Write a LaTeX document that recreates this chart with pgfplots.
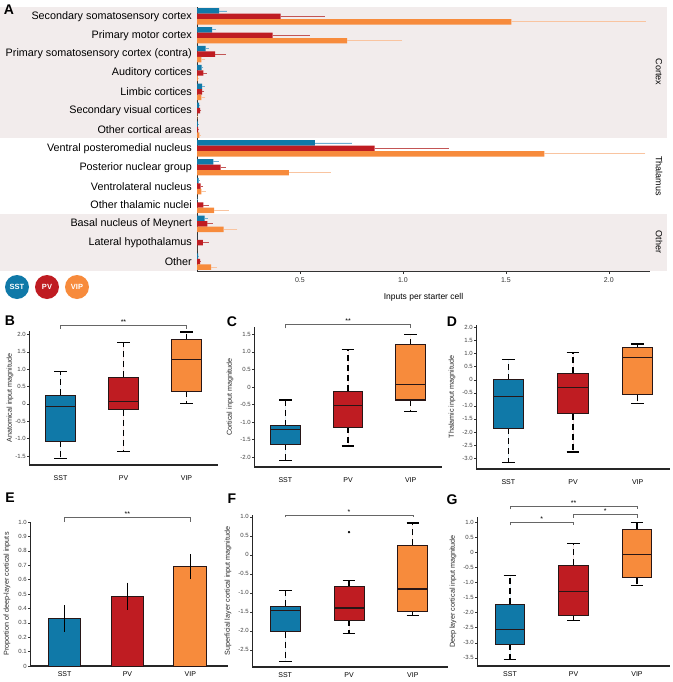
\documentclass[border=0pt]{standalone}
\usepackage{fontspec}
\setmainfont{Liberation Sans}
\usepackage{pgfplots}
\pgfplotsset{compat=1.18}
\usepgfplotslibrary{statistics}
\usepackage{pgfplotstable}

\definecolor{sstc}{RGB}{16,121,168}
\definecolor{pvc}{RGB}{191,28,34}
\definecolor{vipc}{RGB}{247,139,60}
\definecolor{sste}{RGB}{110,175,210}
\definecolor{pve}{RGB}{195,85,85}
\definecolor{vipe}{RGB}{249,196,160}
\definecolor{bandc}{RGB}{242,236,236}
\definecolor{edgec}{RGB}{40,22,22}

\pgfplotstableread{
r v e
13 0.108 0.038
12 0.073 0.020
11 0.042 0.014
10 0.023 0.008
9 0.025 0.012
8 0.010 0.006
7 0.004 0.003
6 0.573 0.181
5 0.079 0.029
4 0.008 0.004
3 0.002 0.002
2 0.0375 0.015
1 0.000 0.000
0 0.006 0.002
}\sstA
\pgfplotstableread{
r v e
13 0.406 0.214
12 0.367 0.180
11 0.0875 0.052
10 0.031 0.017
9 0.025 0.010
8 0.015 0.006
7 0.006 0.003
6 0.8625 0.360
5 0.115 0.027
4 0.017 0.013
3 0.031 0.027
2 0.050 0.027
1 0.029 0.029
0 0.015 0.004
}\pvA
\pgfplotstableread{
r v e
13 1.527 0.653
12 0.729 0.267
11 0.021 0.020
10 0.004 0.006
9 0.021 0.020
8 0.002 0.002
7 0.012 0.006
6 1.6875 0.490
5 0.446 0.204
4 0.021 0.021
3 0.083 0.071
2 0.129 0.067
1 0.000 0.000
0 0.069 0.029
}\vipA

\pgfplotsset{
  boxax/.style={
    scale only axis, anchor=south west,
    axis x line*=bottom, axis y line*=left,
    xmin=0.5, xmax=3.5, xtick={1,2,3}, xticklabels={SST,PV,VIP},
    x tick style={draw=none},
    y tick style={black!80, line width=0.5pt},
    tick align=outside, major tick length=2pt,
    x axis line style={line width=1.1pt, black!85},
    y axis line style={line width=0.7pt, black!85},
    xticklabel style={font=\fontsize{7}{8}\selectfont},
    yticklabel style={font=\fontsize{6}{6.5}\selectfont, text=black!75, inner sep=1pt},
    ylabel style={font=\fontsize{7.2}{8}\selectfont, anchor=center, text=black!85},
    clip=false, unbounded coords=jump,
    /pgf/number format/assume math mode=true,
    boxplot/draw direction=y,
    boxplot/box extend=0.47,
    boxplot/whisker extend=0,
    boxplot/every whisker/.style={dash pattern=on 6pt off 4pt, draw=black, line width=1.1pt},
    boxplot/every median/.style={line width=1.3pt, draw=edgec},
  },
  sbox/.style={fill=sstc, draw=edgec, line width=1.05pt, solid},
  pbox/.style={fill=pvc, draw=edgec, line width=1.05pt, solid},
  vbox/.style={fill=vipc, draw=edgec, line width=1.05pt, solid},
  caps/.style={black, line width=1.1pt, solid, no marks},
}
\newcommand{\sig}[6]{%
  \draw[black!60, line width=0.6pt] (axis cs:#1,#5) -- (axis cs:#1,#4) -- (axis cs:#2,#4) -- (axis cs:#2,#5);
  \node[font=\fontsize{7}{7}\selectfont, above, inner sep=0.5pt] at (axis cs:#3,#4) {#6};}
\newcommand{\plab}[3]{\node[font=\fontsize{14}{14}\selectfont\bfseries] at (#1pt,-#2pt) {#3};}

\begin{document}
\begin{tikzpicture}
\useasboundingbox (0pt,0pt) rectangle (672pt,-682pt);
% bands of panel A
\fill[bandc] (0pt,-7pt) rectangle (667pt,-138pt);
\fill[bandc] (0pt,-214pt) rectangle (667pt,-271pt);

\begin{axis}[scale only axis, anchor=south west, at={(197pt,-271pt)},
  width=453pt, height=264pt,
  xmin=0, xmax=2.2, ymin=-0.5, ymax=13.5,
  axis x line*=bottom, axis y line*=left,
  axis line style={line width=0.7pt, black!80},
  ytick={0,...,13},
  yticklabels={Other, Lateral hypothalamus, Basal nucleus of Meynert, Other thalamic nuclei, Ventrolateral nucleus, Posterior nuclear group, Ventral posteromedial nucleus, Other cortical areas, Secondary visual cortices, Limbic cortices, Auditory cortices, Primary somatosensory cortex (contra), Primary motor cortex, Secondary somatosensory cortex},
  y tick style={draw=none},
  yticklabel style={font=\fontsize{10.8}{12}\selectfont, inner sep=2pt},
  xtick={0.5,1,1.5,2}, xticklabels={0.5,1.0,1.5,2.0},
  x tick style={black!80, line width=0.5pt},
  tick align=outside, major tick length=3pt,
  xticklabel style={font=\fontsize{7}{8}\selectfont, text=black!80},
  xlabel={Inputs per starter cell},
  xlabel style={font=\fontsize{8.5}{9}\selectfont, yshift=-4pt},
  /pgf/number format/assume math mode=true,
  clip=false]
\addplot[xbar, bar width=0.29, bar shift=0pt, fill=sstc, draw=none,
  error bars/.cd, x dir=plus, x explicit, error mark=none,
  error bar style={line width=0.8pt, sste}]
  table[x=v, y expr=\thisrow{r}+0.29, x error=e] {\sstA};
\addplot[xbar, bar width=0.29, bar shift=0pt, fill=pvc, draw=none,
  error bars/.cd, x dir=plus, x explicit, error mark=none,
  error bar style={line width=0.8pt, pve}]
  table[x=v, y=r, x error=e] {\pvA};
\addplot[xbar, bar width=0.29, bar shift=0pt, fill=vipc, draw=none,
  error bars/.cd, x dir=plus, x explicit, error mark=none,
  error bar style={line width=0.8pt, vipe}]
  table[x=v, y expr=\thisrow{r}-0.29, x error=e] {\vipA};
\end{axis}

\node[rotate=-90, font=\fontsize{9}{9}\selectfont] at (659pt,-72pt) {Cortex};
\node[rotate=-90, font=\fontsize{9}{9}\selectfont] at (659pt,-176pt) {Thalamus};
\node[rotate=-90, font=\fontsize{9}{9}\selectfont] at (659pt,-242pt) {Other};

% legend circles
\fill[sstc] (17pt,-287pt) circle (12pt);
\fill[pvc] (47pt,-287pt) circle (12pt);
\fill[vipc] (77pt,-287pt) circle (12pt);
\node[text=white, font=\fontsize{7.5}{8}\selectfont\bfseries] at (17pt,-287pt) {SST};
\node[text=white, font=\fontsize{7.5}{8}\selectfont\bfseries] at (47pt,-287pt) {PV};
\node[text=white, font=\fontsize{7.5}{8}\selectfont\bfseries] at (77pt,-287pt) {VIP};

% panel letters
\plab{9}{10}{A}
\plab{10}{321}{B}
\plab{232}{322}{C}
\plab{452}{322}{D}
\plab{10}{498}{E}
\plab{232}{499}{F}
\plab{452}{500}{G}

% B
\begin{axis}[boxax, at={(29pt,-465pt)}, width=189pt, height=134pt,
  ymin=-1.76, ymax=2.1,
  xticklabel style={yshift=-5pt},
  ytick={-1.5,-1,-0.5,0,0.5,1,1.5,2}, yticklabels={-1.5,-1.0,-0.5,0,0.5,1.0,1.5,2.0},
  ylabel={Anatomical input magnitude},
  ylabel style={at={(axis description cs:-0.1,0.5)}}]
\addplot[sbox, boxplot prepared={draw position=1, lower whisker=-1.58, lower quartile=-1.08, median=-0.08, upper quartile=0.25, upper whisker=0.93}] coordinates {};
\addplot[pbox, boxplot prepared={draw position=2, lower whisker=-1.38, lower quartile=-0.17, median=0.07, upper quartile=0.77, upper whisker=1.78}] coordinates {};
\addplot[vbox, boxplot prepared={draw position=3, lower whisker=0.0, lower quartile=0.37, median=1.28, upper quartile=1.85, upper whisker=2.07}] coordinates {};
\addplot[caps] coordinates {(0.9,-1.58) (1.1,-1.58) (1,nan) (0.9,0.93) (1.1,0.93) (1,nan)
  (1.9,-1.38) (2.1,-1.38) (2,nan) (1.9,1.78) (2.1,1.78) (2,nan)
  (2.9,0.0) (3.1,0.0) (3,nan) (2.9,2.07) (3.1,2.07)};
\sig{1}{3}{2}{2.27}{2.16}{**}
\end{axis}

% C
\begin{axis}[boxax, at={(254pt,-467pt)}, width=188pt, height=140pt,
  ymin=-2.28, ymax=1.71,
  xticklabel style={yshift=-5pt},
  ytick={-2,-1.5,-1,-0.5,0,0.5,1,1.5}, yticklabels={-2.0,-1.5,-1.0,-0.5,0,0.5,1.0,1.5},
  ylabel={Cortical input magnitude},
  ylabel style={at={(axis description cs:-0.128,0.5)}}]
\addplot[sbox, boxplot prepared={draw position=1, lower whisker=-2.1, lower quartile=-1.63, median=-1.22, upper quartile=-1.1, upper whisker=-0.37}] coordinates {};
\addplot[pbox, boxplot prepared={draw position=2, lower whisker=-1.68, lower quartile=-1.15, median=-0.53, upper quartile=-0.12, upper whisker=1.08}] coordinates {};
\addplot[vbox, boxplot prepared={draw position=3, lower whisker=-0.7, lower quartile=-0.37, median=0.08, upper quartile=1.2, upper whisker=1.5}] coordinates {};
\addplot[caps] coordinates {(0.9,-2.1) (1.1,-2.1) (1,nan) (0.9,-0.37) (1.1,-0.37) (1,nan)
  (1.9,-1.68) (2.1,-1.68) (2,nan) (1.9,1.08) (2.1,1.08) (2,nan)
  (2.9,-0.7) (3.1,-0.7) (3,nan) (2.9,1.5) (3.1,1.5)};
\sig{1}{3}{2}{1.78}{1.67}{**}
\end{axis}

% D
\begin{axis}[boxax, at={(476pt,-469pt)}, width=194pt, height=144pt,
  ymin=-3.42, ymax=2.1,
  xticklabel style={yshift=-5pt},
  ytick={-3,-2.5,-2,-1.5,-1,-0.5,0,0.5,1,1.5,2}, yticklabels={-3.0,-2.5,-2.0,-1.5,-1.0,-0.5,0,0.5,1.0,1.5,2.0},
  ylabel={Thalamic input magnitude},
  ylabel style={at={(axis description cs:-0.124,0.5)}}]
\addplot[sbox, boxplot prepared={draw position=1, lower whisker=-3.17, lower quartile=-1.85, median=-0.65, upper quartile=0.0, upper whisker=0.78}] coordinates {};
\addplot[pbox, boxplot prepared={draw position=2, lower whisker=-2.77, lower quartile=-1.3, median=-0.3, upper quartile=0.25, upper whisker=1.03}] coordinates {};
\addplot[vbox, boxplot prepared={draw position=3, lower whisker=-0.92, lower quartile=-0.57, median=0.85, upper quartile=1.22, upper whisker=1.37}] coordinates {};
\addplot[caps] coordinates {(0.9,-3.17) (1.1,-3.17) (1,nan) (0.9,0.78) (1.1,0.78) (1,nan)
  (1.9,-2.77) (2.1,-2.77) (2,nan) (1.9,1.03) (2.1,1.03) (2,nan)
  (2.9,-0.92) (3.1,-0.92) (3,nan) (2.9,1.37) (3.1,1.37)};
\end{axis}

% E
\begin{axis}[boxax, at={(30pt,-666pt)}, width=198pt, height=144pt,
  xmin=0.45, xmax=3.6, ymin=0, ymax=1.0,
  ytick={0,0.1,0.2,0.3,0.4,0.5,0.6,0.7,0.8,0.9,1.0}, yticklabels={0,0.1,0.2,0.3,0.4,0.5,0.6,0.7,0.8,0.9,1.0},
  ylabel={Proportion of deep-layer cortical inputs},
  ylabel style={at={(axis description cs:-0.116,0.5)}}]
\addplot[ybar, bar width=0.52, bar shift=0pt, fill=sstc, draw=edgec, line width=0.9pt,
  error bars/.cd, y dir=both, y explicit, error bar style={line width=0.6pt, black}, error mark options={line width=0.6pt, black, mark size=2.5pt}]
  coordinates {(1,0.33) +- (0,0.075)};
\addplot[ybar, bar width=0.52, bar shift=0pt, fill=pvc, draw=edgec, line width=0.9pt,
  error bars/.cd, y dir=both, y explicit, error bar style={line width=0.6pt, black}, error mark options={line width=0.6pt, black, mark size=2.5pt}]
  coordinates {(2,0.485) +- (0,0.077)};
\addplot[ybar, bar width=0.52, bar shift=0pt, fill=vipc, draw=edgec, line width=0.9pt,
  error bars/.cd, y dir=both, y explicit, error bar style={line width=0.6pt, black}, error mark options={line width=0.6pt, black, mark size=2.5pt}]
  coordinates {(3,0.69) +- (0,0.07)};
\sig{1}{3}{2}{1.035}{1.0}{**}
\end{axis}

% F
\begin{axis}[boxax, at={(252pt,-667pt)}, width=196pt, height=152pt,
  xmin=0.48, xmax=3.55, ymin=-2.95, ymax=1.05,
  ytick={-2.5,-2,-1.5,-1,-0.5,0,0.5,1}, yticklabels={-2.5,-2.0,-1.5,-1.0,-0.5,0,0.5,1.0},
  ylabel={Superficial layer cortical input magnitude},
  ylabel style={at={(axis description cs:-0.122,0.5)}}]
\addplot[sbox, boxplot prepared={draw position=1, lower whisker=-2.8, lower quartile=-2.02, median=-1.47, upper quartile=-1.35, upper whisker=-0.93}] coordinates {};
\addplot[pbox, boxplot prepared={draw position=2, lower whisker=-2.08, lower quartile=-1.72, median=-1.4, upper quartile=-0.82, upper whisker=-0.68}] coordinates {};
\addplot[vbox, boxplot prepared={draw position=3, lower whisker=-1.6, lower quartile=-1.5, median=-0.9, upper quartile=0.25, upper whisker=0.84}] coordinates {};
\addplot[caps] coordinates {(0.9,-2.8) (1.1,-2.8) (1,nan) (0.9,-0.93) (1.1,-0.93) (1,nan)
  (1.9,-2.08) (2.1,-2.08) (2,nan) (1.9,-0.68) (2.1,-0.68) (2,nan)
  (2.9,-1.6) (3.1,-1.6) (3,nan) (2.9,0.84) (3.1,0.84)};
\addplot[only marks, mark=*, mark size=1pt, black] coordinates {(2,0.6)};
\sig{1}{3}{2}{1.05}{0.99}{*}
\end{axis}

% G
\begin{axis}[boxax, at={(477pt,-666pt)}, width=193pt, height=149pt,
  xmin=0.48, xmax=3.52, ymin=-3.77, ymax=1.17,
  ytick={-3.5,-3,-2.5,-2,-1.5,-1,-0.5,0,0.5,1}, yticklabels={-3.5,-3.0,-2.5,-2.0,-1.5,-1.0,-0.5,0,0.5,1.0},
  ylabel={Deep layer cortical input magnitude},
  ylabel style={at={(axis description cs:-0.124,0.5)}}]
\addplot[sbox, boxplot prepared={draw position=1, lower whisker=-3.55, lower quartile=-3.05, median=-2.57, upper quartile=-1.72, upper whisker=-0.78}] coordinates {};
\addplot[pbox, boxplot prepared={draw position=2, lower whisker=-2.27, lower quartile=-2.1, median=-1.3, upper quartile=-0.43, upper whisker=0.28}] coordinates {};
\addplot[vbox, boxplot prepared={draw position=3, lower whisker=-1.1, lower quartile=-0.85, median=-0.08, upper quartile=0.77, upper whisker=0.98}] coordinates {};
\addplot[caps] coordinates {(0.9,-3.55) (1.1,-3.55) (1,nan) (0.9,-0.78) (1.1,-0.78) (1,nan)
  (1.9,-2.27) (2.1,-2.27) (2,nan) (1.9,0.28) (2.1,0.28) (2,nan)
  (2.9,-1.1) (3.1,-1.1) (3,nan) (2.9,0.98) (3.1,0.98)};
\sig{1}{3}{2}{1.53}{1.42}{**}
\sig{2}{3}{2.5}{1.26}{1.15}{*}
\sig{1}{2}{1.5}{1.0}{0.89}{*}
\end{axis}
\end{tikzpicture}
\end{document}
